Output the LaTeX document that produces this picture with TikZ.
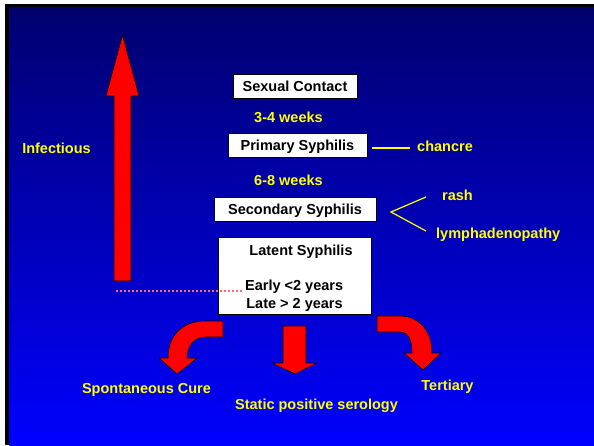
\documentclass[tikz,border=0pt]{standalone}
\usepackage{fontspec}
\setmainfont{Liberation Sans}
\usetikzlibrary{positioning}
\definecolor{slidetop}{RGB}{0,0,110}
\definecolor{slidebot}{RGB}{0,0,255}
\definecolor{noteyellow}{RGB}{255,255,0}
\definecolor{dotpink}{RGB}{255,105,105}
\begin{document}
\begin{tikzpicture}[x=1pt,y=-1pt,
  txt/.style={font=\bfseries\fontsize{14.5}{17}\selectfont, text height=10.5pt, text depth=0pt, inner sep=0pt},
  stagebox/.style={txt, draw=black, fill=white, minimum height=24pt},
  note/.style={txt, text=noteyellow},
  branch/.style={draw=noteyellow, line width=1.2pt},
  fatarrow/.style={fill=red, draw=black, line width=0.6pt},
  dotline/.style={draw=dotpink, line width=1.5pt, dash pattern=on 2pt off 2pt}]
\useasboundingbox (0,0) rectangle (594,445);
% slide background
\fill[white] (0,0) rectangle (594,445);
\shade[top color=slidetop, bottom color=slidebot] (9,7) rectangle (594,445);
\fill[black] (5,4) rectangle (594,7);
\fill[black] (5,4) rectangle (9,445);
% infectious arrow
\filldraw[fatarrow] (114,281) -- (114,96) -- (106,96) -- (122.5,35) -- (139,96) -- (131,96) -- (131,281) -- cycle;
\node[note] (infectious) at (56.5,148) {Infectious};
% stages
\node[stagebox, minimum width=124pt] (contact) at (295,86) {Sexual Contact};
\node[note] (wk34) at (288.5,117) {3-4 weeks};
\node[stagebox, minimum width=139pt] (primary) at (297.5,145) {Primary Syphilis};
\node[note] (wk68) at (288.5,180) {6-8 weeks};
\node[stagebox, minimum width=162pt] (secondary) at (295,209.5) {Secondary Syphilis};
\node[stagebox, minimum width=153pt, minimum height=77pt] (latent) at (294.5,275.5) {};
\node[txt] (latenttitle) at (301,250) {Latent Syphilis};
\node[txt, anchor=west] (early) at (245,285) {Early <2 years};
\node[txt] (late) at (294.5,303) {Late > 2 years};
% signs
\node[note, anchor=west] (chancre) at (417,146) {chancre};
\draw[branch, shorten <=5pt, shorten >=7pt] (primary.east |- 0,148) -- (chancre.west |- 0,148);
\node[note, anchor=west] (rash) at (442,195) {rash};
\node[note, anchor=west] (lymph) at (436,233) {lymphadenopathy};
\coordinate (fork) at (391,212);
\coordinate (rashend) at (426,197);
\coordinate (lymphend) at (426,231);
\draw[branch] (rashend) -- (fork) -- (lymphend);
% end of infectious period
\coordinate (infend) at (116,291);
\draw[dotline, shorten >=2pt] (infend) -- (early.west |- infend);
% outcomes
\filldraw[fatarrow] (223,321) -- (205,321) .. controls (183,321) and (168,335) .. (168,358) -- (159,358) -- (177,374) -- (197,358) -- (187,358) .. controls (187,345) and (195,337) .. (205,337) -- (223,337) -- cycle;
\filldraw[fatarrow] (283,326) -- (306,326) -- (306,363) -- (317,363) -- (295,374) -- (272,363) -- (283,363) -- cycle;
\filldraw[fatarrow] (377,316) -- (400,316) .. controls (420,316) and (432,332) .. (432,353) -- (441,353) -- (423,370) -- (404,353) -- (412,353) .. controls (412,340) and (408,332) .. (400,332) -- (377,332) -- cycle;
\node[note] (cure) at (146.5,388) {Spontaneous Cure};
\node[note] (serology) at (316.5,404) {Static positive serology};
\node[note] (tertiary) at (447.5,385) {Tertiary};
\end{tikzpicture}
\end{document}
